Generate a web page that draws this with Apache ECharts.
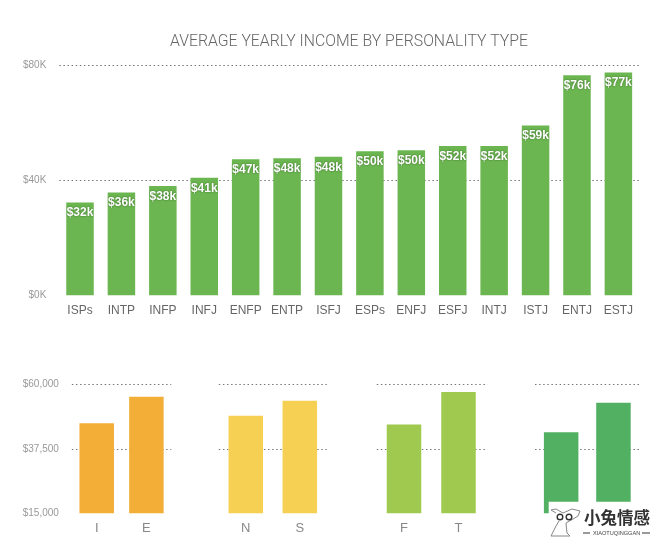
<!DOCTYPE html>
<html>
<head>
<meta charset="utf-8">
<style>
    html, body { margin: 0; padding: 0; background: #fff; }
    #main { width: 660px; height: 547px; }
</style>
</head>
<body>
<div id="main"></div>
<script src="https://cdn.jsdelivr.net/npm/echarts@6/dist/echarts.min.js"></script>
<script>
    var types = ['ISPs','INTP','INFP','INFJ','ENFP','ENTP','ISFJ','ESPs','ENFJ','ESFJ','INTJ','ISTJ','ENTJ','ESTJ'];
    // bar heights in $K
    var income = [32.2,35.7,38,40.8,47.3,47.6,48.1,50,50.4,51.9,51.9,59,76.4,77.4];
    var incomeLabels = ['$32k','$36k','$38k','$41k','$47k','$48k','$48k','$50k','$50k','$52k','$52k','$59k','$76k','$77k'];

    var ieNames = ['I','E'];
    var ieValues = [46400,55700];
    var nsNames = ['N','S'];
    var nsValues = [49000,54300];
    var ftNames = ['F','T'];
    var ftValues = [46000,57300];
    // the letters of the last pair are hidden by the stamp in the picture
    var lastNames = ['',''];
    var lastValues = [43300,53600];

    var font = '"Liberation Sans", Arial, sans-serif';
    var dots = { show: true, showMinLine: false, lineStyle: { color: '#777', width: 1, type: [1.5, 2.6] } };

    function smallPanel(i, left, right, names, values, color, showY) {
        return {
            grid: { left: left, width: right - left, top: 384.3, height: 129, containLabel: false },
            xAxis: {
                type: 'category', gridIndex: i, data: names,
                axisLine: { show: false }, axisTick: { show: false },
                axisLabel: { color: '#888', fontSize: 13, fontFamily: font, margin: 9 }
            },
            yAxis: {
                type: 'value', gridIndex: i, min: 15000, max: 60000, interval: 22500,
                splitLine: dots, axisLine: { show: false }, axisTick: { show: false },
                axisLabel: {
                    show: showY, color: '#999', fontSize: 10, fontFamily: font, margin: 13,
                    formatter: function (v) { return '$' + v.toLocaleString('en-US'); }
                }
            },
            series: {
                type: 'bar', xAxisIndex: i, yAxisIndex: i, data: values,
                barWidth: 34.5, itemStyle: { color: color }, silent: true
            }
        };
    }

    var panels = [
        smallPanel(1, 71.85, 171.25, ieNames, ieValues, '#F2AE36', true),
        smallPanel(2, 218.8, 326.8, nsNames, nsValues, '#F5D053', false),
        smallPanel(3, 376.75, 485.75, ftNames, ftValues, '#A0C94F', false),
        smallPanel(4, 535, 639.6, lastNames, lastValues, '#52B062', false)
    ];

    var myChart = echarts.init(document.getElementById('main'), null, { renderer: 'canvas' });
    var option = {
        animation: false,
        backgroundColor: '#fff',
        title: {
            text: 'AVERAGE YEARLY INCOME BY PERSONALITY TYPE',
            left: 165, top: 29.5,
            textStyle: { color: '#666', fontSize: 15.8, fontWeight: 300, fontFamily: 'Roboto, ' + font }
        },
        grid: [{ left: 59.3, width: 579.8, top: 65, height: 230.3 }].concat(panels.map(function (p) { return p.grid; })),
        xAxis: [{
            type: 'category', gridIndex: 0, data: types,
            axisLine: { show: false }, axisTick: { show: false },
            axisLabel: { color: '#666', fontSize: 12, fontFamily: font, margin: 9, interval: 0 }
        }].concat(panels.map(function (p) { return p.xAxis; })),
        yAxis: [{
            type: 'value', gridIndex: 0, min: 0, max: 80, interval: 40,
            splitLine: dots, axisLine: { show: false }, axisTick: { show: false },
            axisLabel: { color: '#999', fontSize: 10, fontFamily: font, margin: 13, formatter: '${value}K' }
        }].concat(panels.map(function (p) { return p.yAxis; })),
        series: [{
            type: 'bar', xAxisIndex: 0, yAxisIndex: 0, data: income,
            barWidth: 27.5, itemStyle: { color: '#6BB650' }, silent: true,
            label: {
                show: true, position: 'insideTop', distance: 4.5,
                color: '#fff', fontSize: 12, fontWeight: 'bold', fontFamily: font,
                textShadowColor: 'rgba(0,0,0,0.45)', textShadowBlur: 2,
                formatter: function (p) { return incomeLabels[p.dataIndex]; }
            }
        }].concat(panels.map(function (p) { return p.series; })),
        graphic: [
            // stamp in the corner of the picture, it covers the bottom of the last pair
            { type: 'rect', z: 100, shape: { x: 548.7, y: 501.7, width: 111.3, height: 45.3 }, style: { fill: '#fff' } },
            { type: 'polyline', z: 101, shape: { points: [[556,513],[551,510],[556,509],[563,513],[572,509],[580,511],[578,516],[573,519],[566,523],[567,533],[570,536],[551,536],[556,526],[559,521]] }, style: { fill: 'none', stroke: '#888', lineWidth: 1 } },
            { type: 'circle', z: 101, shape: { cx: 560, cy: 517, r: 2.8 }, style: { fill: '#fff', stroke: '#333', lineWidth: 1.4 } },
            { type: 'circle', z: 101, shape: { cx: 569, cy: 517, r: 2.8 }, style: { fill: '#fff', stroke: '#333', lineWidth: 1.4 } },
            { type: 'text', z: 101, style: { x: 584, y: 509, text: '小兔情感', fill: '#333', font: 'bold 16.5px "Noto Sans CJK SC"' } },
            { type: 'rect', z: 101, shape: { x: 583, y: 532.5, width: 7, height: 1 }, style: { fill: '#333' } },
            { type: 'rect', z: 101, shape: { x: 642, y: 532.5, width: 8, height: 1 }, style: { fill: '#333' } },
            { type: 'text', z: 101, style: { x: 593, y: 530, text: 'XIAOTUQINGGAN', fill: '#444', font: '5.6px ' + font } }
        ]
    };
    myChart.setOption(option);
</script>
</body>
</html>
